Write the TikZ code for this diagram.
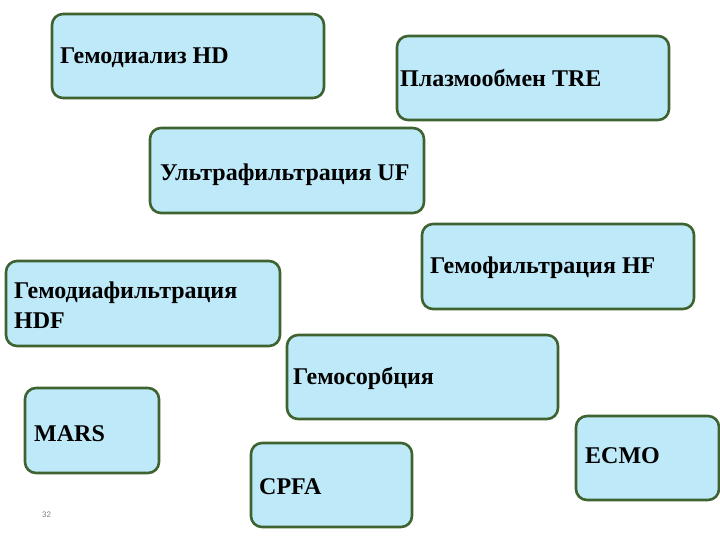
\documentclass[tikz,border=0pt]{standalone}
\usepackage{fontspec}
\setmainfont{Liberation Serif}[BoldFont={Liberation Serif Bold}]
\newfontfamily\numfont{Liberation Sans}
\definecolor{boxfill}{HTML}{BDE9F8}
\definecolor{boxline}{HTML}{3E6330}
\begin{document}
\begin{tikzpicture}[x=1pt,y=-1pt,
  pbox/.style={draw=boxline,fill=boxfill,line width=2.6pt,rounded corners=11pt},
  ptext/.style={anchor=west,inner sep=0pt,font=\bfseries\fontsize{24}{30}\selectfont,align=left}]
\useasboundingbox (0,0) rectangle (720,540);
\path[pbox] (52,14) rectangle (324,98);
\node[ptext] (t1) at (60,58) {Гемодиализ HD};
\path[pbox] (397,36) rectangle (669,120);
\node[ptext] (t2) at (400,78) {Плазмообмен TRE};
\path[pbox] (150,128) rectangle (424,213);
\node[ptext] (t3) at (160,175) {Ультрафильтрация UF};
\path[pbox] (422,224) rectangle (694,309);
\node[ptext] (t4) at (430,268) {Гемофильтрация HF};
\path[pbox] (6,261) rectangle (280,346);
\node[ptext] (t5) at (14,305) {Гемодиафильтрация\\HDF};
\path[pbox] (287,335) rectangle (558,419);
\node[ptext] (t6) at (293,378) {Гемосорбция};
\path[pbox] (25,388) rectangle (159,473);
\node[ptext] (t7) at (34,434) {MARS};
\path[pbox] (576,416) rectangle (719,500);
\node[ptext] (t8) at (585,456) {ECMO};
\path[pbox] (251,443) rectangle (412,527);
\node[ptext] (t9) at (259,487) {CPFA};
\node[anchor=west,inner sep=0pt,font=\numfont\fontsize{8}{9}\selectfont,text=gray] (pg) at (42,515) {32};
\end{tikzpicture}
\end{document}
